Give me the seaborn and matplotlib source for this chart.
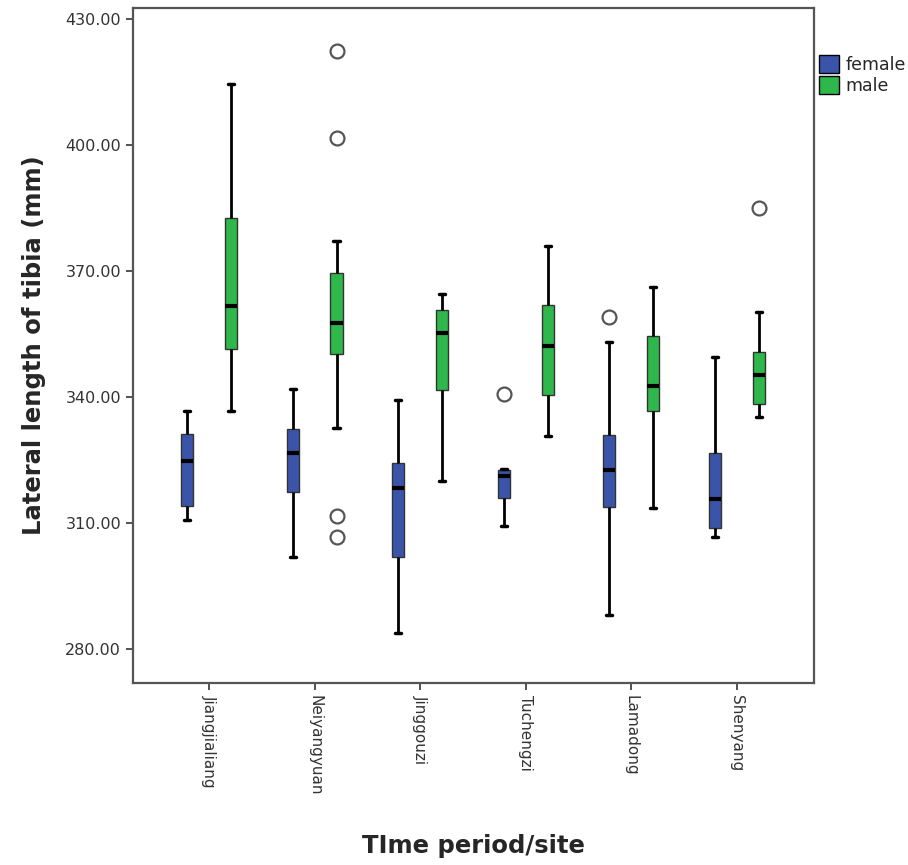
"""Boxplot of lateral tibia length by site and sex (SPSS style)"""

import pandas as pd
import matplotlib
matplotlib.use("Agg")
import matplotlib.pyplot as plt
import seaborn as sns

sites = ["Jiangjialiang", "Neiyangyuan", "Jinggouzi", "Tuchengzi", "Lamadong", "Shenyang"]
sexes = ["female", "male"]

# five number summaries (whisker low, q1, median, q3, whisker high)
female_lo = [310.9, 301.9, 284.0, 309.3, 288.2, 306.8]
female_q1 = [314.2, 317.4, 301.9, 316.1, 313.8, 308.8]
female_med = [324.8, 326.8, 318.3, 321.3, 322.8, 315.7]
female_q3 = [331.2, 332.5, 324.3, 322.8, 331.0, 326.8]
female_hi = [336.7, 341.9, 339.4, 323.0, 353.2, 349.6]
female_out = [[], [], [], [340.7], [359.2], []]

male_lo = [336.7, 332.8, 320.2, 330.8, 313.7, 335.3]
male_q1 = [351.6, 350.2, 341.8, 340.6, 336.7, 338.5]
male_med = [361.7, 357.7, 355.4, 352.2, 342.7, 345.2]
male_q3 = [382.7, 369.6, 360.8, 362.0, 354.6, 350.9]
male_hi = [414.5, 377.3, 364.6, 376.1, 366.2, 360.2]
male_out = [[], [306.8, 311.8, 401.7, 422.5], [], [], [], [385.1]]

colors = {"female": "#3a54aa", "male": "#2eb84b"}


def expand(lo, q1, med, q3, hi, out, m=20):
    # repeat the summary values so seaborn's quartiles land on them exactly
    return out + [lo] + [q1] * m + [med] * m + [q3] * m + [hi]


def build_frame():
    rows = []
    summaries = {
        "female": (female_lo, female_q1, female_med, female_q3, female_hi, female_out),
        "male": (male_lo, male_q1, male_med, male_q3, male_hi, male_out),
    }
    for sex in sexes:
        lo, q1, med, q3, hi, out = summaries[sex]
        for i, site in enumerate(sites):
            for v in expand(lo[i], q1[i], med[i], q3[i], hi[i], out[i]):
                rows.append({"site": site, "sex": sex, "length": v})
    return pd.DataFrame(rows)


def main():
    data = build_frame()

    sns.set_style("white")
    plt.rcParams['font.family'] = ['DejaVu Sans']

    fig = plt.figure(figsize=(9.08, 8.65), dpi=100)
    ax = fig.add_axes([133 / 908, 1 - 683 / 865, 681 / 908, 675.5 / 865])

    sns.boxplot(data=data, x="site", y="length", hue="sex", order=sites, hue_order=sexes,
                palette=colors, saturation=1, width=0.83, gap=0.725, linecolor="black", linewidth=1.4,
                boxprops=dict(edgecolor="#333333", linewidth=1.0),
                medianprops=dict(color="black", linewidth=3),
                whiskerprops=dict(color="black", linewidth=2.0),
                capprops=dict(color="black", linewidth=2.5),
                flierprops=dict(marker="o", markerfacecolor="white", markeredgecolor="#555555",
                                markersize=10, markeredgewidth=1.6),
                ax=ax)

    ax.set_xlim(-0.72, 5.73)
    ax.set_ylim(272.0, 432.8)
    ax.set_yticks([280, 310, 340, 370, 400, 430])
    ax.set_yticklabels([f"{v:.2f}" for v in [280, 310, 340, 370, 400, 430]])

    ax.tick_params(axis="both", direction="out", length=5, width=1.2, color="#333333",
                   labelsize=11.5, labelcolor="#333333", bottom=True, left=True)
    for label in ax.get_xticklabels():
        label.set_rotation(-90)
        label.set_va("top")
        label.set_ha("center")
        label.set_fontsize(11)

    for spine in ax.spines.values():
        spine.set_color("#555555")
        spine.set_linewidth(1.6)

    ax.set_xlabel("TIme period/site", fontsize=17.5, fontweight="bold", labelpad=28)
    ax.set_ylabel("Lateral length of tibia (mm)", fontsize=17.5, fontweight="bold", labelpad=14)

    handles, labels = ax.get_legend_handles_labels()
    for h in handles:
        h.set_edgecolor("black")
        h.set_linewidth(1.0)
    ax.legend(handles, labels, loc="upper left", bbox_to_anchor=(1.008, 0.929), frameon=False,
              borderaxespad=0, borderpad=0, handlelength=1.1, handleheight=1.2,
              handletextpad=0.4, labelspacing=0.12, fontsize=12.5)

    fig.savefig("out.png", dpi=100)


if __name__ == "__main__":
    main()
